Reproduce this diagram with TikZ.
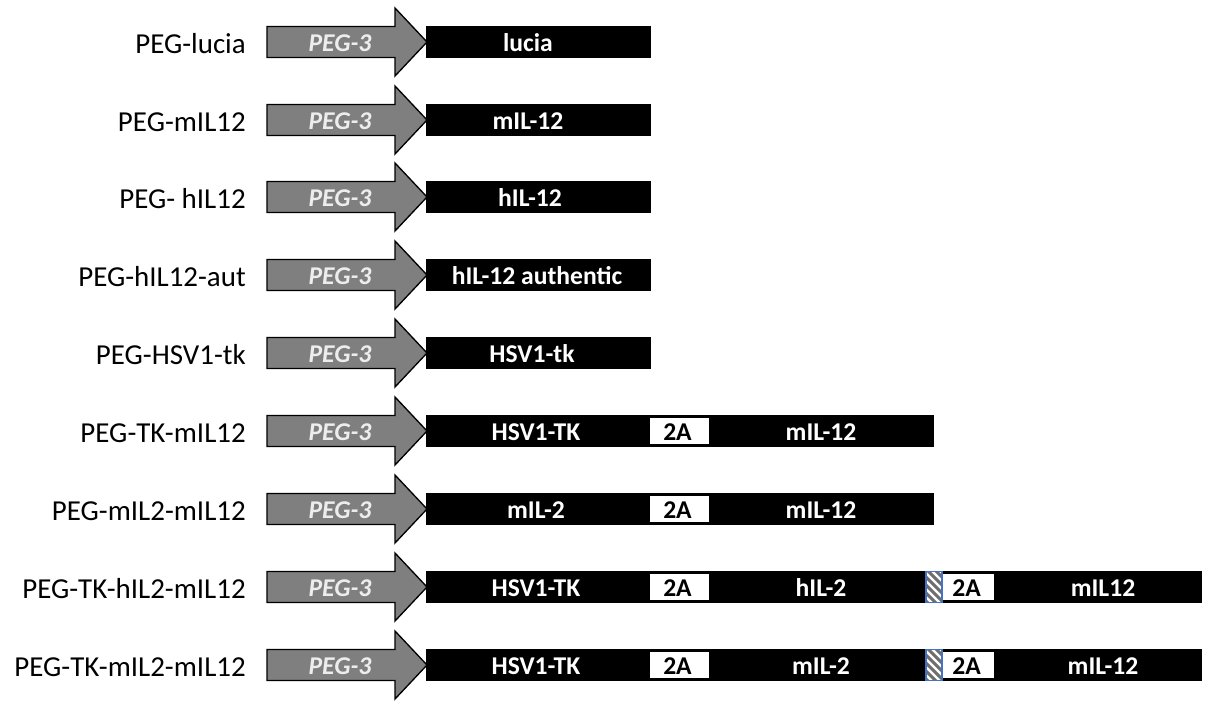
\documentclass[tikz,border=0pt]{standalone}
\usepackage{fontspec}
\setmainfont{Carlito}
\definecolor{promgray}{HTML}{7F7F7F}
\definecolor{promtext}{HTML}{EDEDED}
\definecolor{hatchblue}{HTML}{4472C4}
\definecolor{hatchgray}{HTML}{6E6E6E}
\tikzset{
  rowlabel/.style={anchor=east, inner sep=0pt, font=\fontsize{21.7}{26}\selectfont},
  promoter/.style={fill=promgray, draw=black, line width=1pt, line join=miter},
  promtxt/.style={text=promtext, inner sep=0pt, font=\fontsize{19.2}{22}\selectfont\bfseries\itshape},
  genebox/.style={fill=black, draw=black, line width=0.8pt},
  genetxt/.style={text=white, inner sep=0pt, font=\fontsize{19.2}{22}\selectfont\bfseries},
  twoabox/.style={fill=white, draw=black, line width=0.8pt},
  twoatxt/.style={text=black, inner sep=0pt, font=\fontsize{19.2}{22}\selectfont\bfseries},
  hatchbox/.style={draw=hatchblue, line width=0.9pt},
}
% #1 row name, #2 y centre, #3 label
\newcommand\constructrow[3]{%
  \node[rowlabel] (#1lab) at (246,#2+2) {#3};
  \draw[promoter] (267,#2-15.5) -- (395,#2-15.5) -- (395,#2-34) -- (427,#2)
     -- (395,#2+34) -- (395,#2+15.5) -- (267,#2+15.5) -- cycle;
  \node[promtxt] (#1prom) at (340,#2+1) {PEG-3};
  \coordinate (#1tip) at (427,#2);
}
% #1 name, #2 x1, #3 x2, #4 y centre
\newcommand\genebar[4]{%
  \draw[genebox] (#2,#4-15.5) rectangle (#3,#4+15.5);
  \coordinate (#1) at ({(#2+#3)/2},#4);
}
\newcommand\twoa[4]{%
  \draw[twoabox] (#2,#4-13.5) rectangle (#3,#4+13.5);
  \node[twoatxt] (#1) at ({(#2+#3)/2-2},#4+1) {2A};
}
\newcommand\hatch[4]{%
  \begin{scope}
    \clip (#2,#4-15.5) rectangle (#3,#4+15.5);
    \fill[white] (#2,#4-15.5) rectangle (#3,#4+15.5);
    \foreach \k in {-30,-22,...,20}{
      \draw[hatchgray, line width=2.2pt] (#2+\k,#4-16) -- (#2+\k+34,#4+18);
    }
  \end{scope}
  \draw[hatchbox] (#2,#4-15.5) rectangle (#3,#4+15.5);
  \coordinate (#1) at ({(#2+#3)/2},#4);
}
\begin{document}
\begin{tikzpicture}[x=0.75pt,y=-0.75pt]
\useasboundingbox (0,0) rectangle (1212,704);

% row 1
\constructrow{ra}{42}{PEG-lucia}
\genebar{rabar}{427}{650}{42}
\node[genetxt] (ragene) at (528,43) {lucia};

% row 2
\constructrow{rb}{120}{PEG-mIL12}
\genebar{rbbar}{427}{650}{120}
\node[genetxt] (rbgene) at (528,121) {mIL-12};

% row 3
\constructrow{rc}{197}{PEG- hIL12}
\genebar{rcbar}{427}{650}{197}
\node[genetxt] (rcgene) at (530,198) {hIL-12};

% row 4
\constructrow{rd}{275}{PEG-hIL12-aut}
\genebar{rdbar}{427}{650}{275}
\node[genetxt] (rdgene) at (537,276) {hIL-12 authentic};

% row 5
\constructrow{re}{353}{PEG-HSV1-tk}
\genebar{rebar}{427}{650}{353}
\node[genetxt] (regene) at (532,354) {HSV1-tk};

% row 6
\constructrow{rf}{431}{PEG-TK-mIL12}
\genebar{rfbar}{427}{933}{431}
\node[genetxt] (rfgene) at (536,432) {HSV1-TK};
\twoa{rfa}{649}{710}{431}
\node[genetxt] (rfgeneb) at (821,432) {mIL-12};

% row 7
\constructrow{rg}{509}{PEG-mIL2-mIL12}
\genebar{rgbar}{427}{933}{509}
\node[genetxt] (rggene) at (536,510) {mIL-2};
\twoa{rga}{649}{710}{509}
\node[genetxt] (rggeneb) at (821,510) {mIL-12};

% row 8
\constructrow{rh}{587}{PEG-TK-hIL2-mIL12}
\genebar{rhbar}{427}{1201}{587}
\node[genetxt] (rhgene) at (536,588) {HSV1-TK};
\twoa{rha}{649}{710}{587}
\node[genetxt] (rhgeneb) at (821,588) {hIL-2};
\twoa{rhb}{942}{995}{587}
\hatch{rhh}{926}{942}{587}
\node[genetxt] (rhgenec) at (1103,588) {mIL12};

% row 9
\constructrow{ri}{665}{PEG-TK-mIL2-mIL12}
\genebar{ribar}{427}{1201}{665}
\node[genetxt] (rigene) at (536,666) {HSV1-TK};
\twoa{ria}{649}{710}{665}
\node[genetxt] (rigeneb) at (821,666) {mIL-2};
\twoa{rib}{942}{995}{665}
\hatch{rih}{926}{942}{665}
\node[genetxt] (rigenec) at (1103,666) {mIL-12};
\end{tikzpicture}
\end{document}
